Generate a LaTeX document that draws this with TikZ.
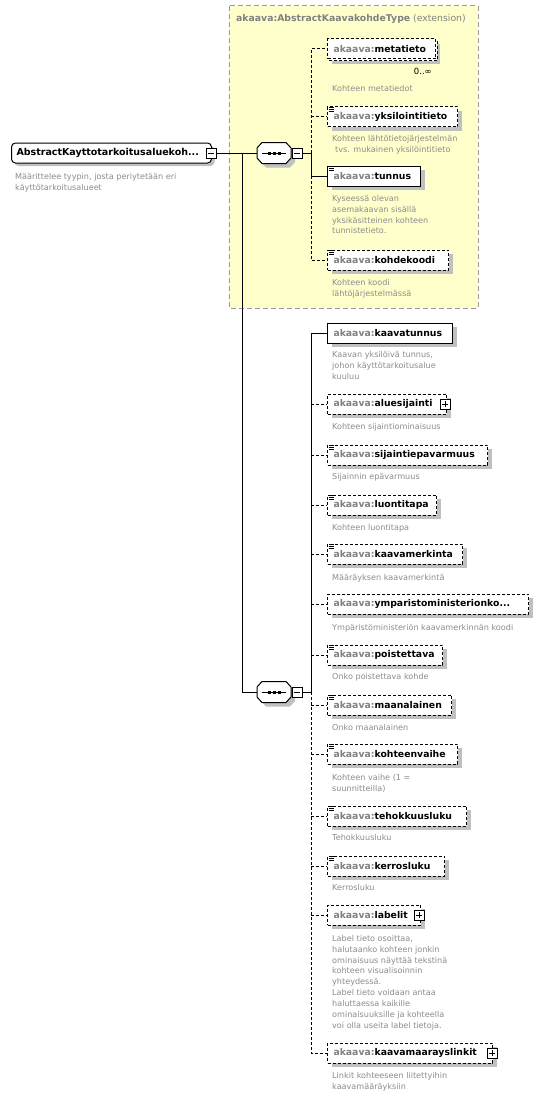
\documentclass[tikz,border=0pt]{standalone}
\usepackage{fontspec}
\setmainfont{DejaVu Sans}
\usetikzlibrary{shadows}
\definecolor{yfill}{HTML}{FFFFCC}
\definecolor{ybord}{HTML}{999999}
\definecolor{pref}{HTML}{808080}
\definecolor{desc}{HTML}{8C8C8C}
\definecolor{shad}{HTML}{C0C0C0}
\newcommand\elem[5]{%
 \pgfmathsetmacro\ew{#3-327}\pgfmathsetmacro\tw{#3-339}%
 \node[box,#4,minimum width=\ew pt] (#1) at (327,#2) {\makebox[\tw pt][l]{\textbf{\textcolor{pref}{akaava:}#5}}};}
\newcommand\dsc[4]{\node[dsc] (#1) at (#2,#3-7.6) {\strut #4};}
\newcommand\simpleicon[1]{\draw[line width=0.8pt] ([xshift=1.5pt,yshift=-0.5pt]#1.north west) -- ++(5.5,0) ([xshift=1.5pt,yshift=-2.5pt]#1.north west) -- ++(5.5,0) ([xshift=1.5pt,yshift=-4.5pt]#1.north west) -- ++(5.5,0);}
\newcommand\seqshape[2]{%
 \fill[shad,shift={(4,4)}] (#1-17,#2-5) -- (#1-12,#2-10.5) -- (#1+12,#2-10.5) -- (#1+17,#2-5) -- (#1+17,#2+5) -- (#1+12,#2+10.5) -- (#1-12,#2+10.5) -- (#1-17,#2+5) -- cycle;
 \draw[line width=1pt,fill=white] (#1-17,#2-5) -- (#1-12,#2-10.5) -- (#1+12,#2-10.5) -- (#1+17,#2-5) -- (#1+17,#2+5) -- (#1+12,#2+10.5) -- (#1-12,#2+10.5) -- (#1-17,#2+5) -- cycle;
 \draw[line width=1pt] (#1-12,#2) -- (#1+12,#2);
 \fill (#1-6.5,#2-1.5) rectangle ++(3,3);
 \fill (#1-1.5,#2-1.5) rectangle ++(3,3);
 \fill (#1+3.5,#2-1.5) rectangle ++(3,3);}
\begin{document}
\begin{tikzpicture}[x=1pt,y=-1pt,
 conn/.style={line width=1pt},
 opt/.style={dash pattern=on 3pt off 2pt},
 shd/.style={drop shadow={shadow xshift=4pt,shadow yshift=-4pt,fill=shad,opacity=1}},
 box/.style={draw,fill=white,line width=1pt,minimum height=20pt,inner xsep=6pt,inner ysep=0pt,anchor=west,font=\fontsize{9.3}{11}\selectfont},
 dsc/.style={anchor=north west,align=left,inner sep=0pt,text=desc,font=\fontsize{8.1}{10.9}\selectfont},
 smallbox/.style={draw,fill=white,line width=1pt,minimum size=10pt,inner sep=0pt},
 minus/.style={smallbox,path picture={\draw[line width=1pt] ([xshift=2pt]path picture bounding box.west) -- ([xshift=-2pt]path picture bounding box.east);}},
 plus/.style={smallbox,path picture={\draw[line width=1pt] ([xshift=2pt]path picture bounding box.west) -- ([xshift=-2pt]path picture bounding box.east) ([yshift=-2pt]path picture bounding box.north) -- ([yshift=2pt]path picture bounding box.south);}},
 seqnode/.style={minimum width=34pt,minimum height=21pt,inner sep=0pt},
]
\useasboundingbox (0,0) rectangle (556,1097);
\fill[white] (0,0) rectangle (556,1097);
\draw[draw=ybord,fill=yfill,line width=1pt,dash pattern=on 5pt off 3pt] (229,6) rectangle (478,308);
\node[anchor=base west,inner sep=0pt,text=pref,font=\fontsize{9.3}{11}\selectfont] (ttl) at (236,22) {\textbf{akaava:AbstractKaavakohdeType} (extension)};

% root
\node[draw,fill=white,line width=1pt,rounded corners=4pt,minimum width=200pt,minimum height=20pt,inner xsep=5pt,inner ysep=0pt,anchor=west,font=\fontsize{9.5}{11}\selectfont\bfseries,drop shadow={shadow xshift=3pt,shadow yshift=-3pt,fill=shad,opacity=1}] (root) at (11,153) {\makebox[190pt][l]{AbstractKayttotarkoitusaluekoh...}};
\node[minus] (rootm) at (211,153) {};
\dsc{rootd}{15}{179}{Määrittelee tyypin, josta periytetään eri\\käyttötarkoitusalueet}

% sequence 1
\node[seqnode] (s1) at (274,153) {};
\seqshape{274}{153}
\node[minus] (s1m) at (297,153) {};
\draw[conn] (rootm.east) -- (s1.west);
\coordinate (j) at (242,153);
\coordinate (b1) at (311,153);
\draw[conn] (s1m.east) -- (b1);

% group 1
\fill[shad] (332,44) rectangle (440,64);
\draw[line width=1pt,opt,fill=white] (329,41) rectangle (437,61);
\elem{meta}{49}{435}{opt}{metatieto}
\node[anchor=base east,inner sep=0pt,font=\fontsize{8.5}{10}\selectfont] (metan) at (432,75) {0..∞};
\dsc{metad}{332}{91}{Kohteen metatiedot}
\elem{yksi}{117}{457}{opt,shd}{yksilointitieto}\simpleicon{yksi}
\dsc{yksid}{332}{141}{Kohteen lähtötietojärjestelmän\\\hspace*{3pt}tvs. mukainen yksilöintitieto}
\elem{tunnus}{176}{420}{shd}{tunnus}\simpleicon{tunnus}
\dsc{tunnusd}{332}{201}{Kyseessä olevan\\asemakaavan sisällä\\yksikäsitteinen kohteen\\tunnistetieto.}
\elem{kohde}{260}{448}{opt,shd}{kohdekoodi}\simpleicon{kohde}
\dsc{kohded}{332}{285}{Kohteen koodi\\lähtöjärjestelmässä}
\draw[conn,opt] (b1) |- (meta.west);
\draw[conn,opt] (b1 |- yksi.west) -- (yksi.west);
\draw[conn] (b1) |- (tunnus.west);
\draw[conn,opt] (b1 |- tunnus.west) |- (kohde.west);

% sequence 2
\node[seqnode] (s2) at (274,692) {};
\seqshape{274}{692}
\node[minus] (s2m) at (297,692) {};
\draw[conn] (j) |- (s2.west);
\coordinate (b2) at (311,692);
\draw[conn] (s2m.east) -- (b2);

% group 2
\elem{kt}{333}{452}{shd}{kaavatunnus}
\dsc{ktd}{332}{357}{Kaavan yksilöivä tunnus,\\johon käyttötarkoitusalue\\kuuluu}
\elem{alue}{404}{446}{opt,shd}{aluesijainti}
\node[plus] (aluep) at (445,404) {};
\dsc{alued}{332}{429}{Kohteen sijaintiominaisuus}
\elem{sijep}{455}{487}{opt,shd}{sijaintiepavarmuus}\simpleicon{sijep}
\dsc{sijepd}{332}{479}{Sijainnin epävarmuus}
\elem{luonti}{505}{436}{opt,shd}{luontitapa}\simpleicon{luonti}
\dsc{luontid}{332}{530}{Kohteen luontitapa}
\elem{kmerk}{554}{462}{opt,shd}{kaavamerkinta}\simpleicon{kmerk}
\dsc{kmerkd}{332}{580}{Määräyksen kaavamerkintä}
\elem{ymp}{604}{528}{opt,shd}{ymparistoministerionko...}
\dsc{ympd}{332}{630}{Ympäristöministeriön kaavamerkinnän koodi}
\elem{poist}{655}{442}{opt,shd}{poistettava}\simpleicon{poist}
\dsc{poistd}{332}{679}{Onko poistettava kohde}
\elem{maan}{705}{451}{opt,shd}{maanalainen}\simpleicon{maan}
\dsc{maand}{332}{730}{Onko maanalainen}
\elem{vaihe}{754}{457}{opt,shd}{kohteenvaihe}\simpleicon{vaihe}
\dsc{vaihed}{332}{780}{Kohteen vaihe (1 =\\suunnitteilla)}
\elem{teho}{816}{466}{opt,shd}{tehokkuusluku}\simpleicon{teho}
\dsc{tehod}{332}{840}{Tehokkuusluku}
\elem{kerros}{866}{444}{opt,shd}{kerrosluku}\simpleicon{kerros}
\dsc{kerrosd}{332}{890}{Kerrosluku}
\elem{labelit}{915}{420}{opt,shd}{labelit}
\node[plus] (labelitp) at (419,915) {};
\dsc{labelitd}{332}{941}{Label tieto osoittaa,\\halutaanko kohteen jonkin\\ominaisuus näyttää tekstinä\\kohteen visualisoinnin\\yhteydessä.\\Label tieto voidaan antaa\\haluttaessa kaikille\\ominaisuuksille ja kohteella\\voi olla useita label tietoja.}
\elem{linkit}{1053}{492}{opt,shd}{kaavamaarayslinkit}
\node[plus] (linkitp) at (492,1053) {};
\dsc{linkitd}{332}{1078}{Linkit kohteeseen liitettyihin\\kaavamääräyksiin}

\draw[conn] (b2) |- (kt.west);
\foreach \n in {alue,sijep,luonti,kmerk,ymp,poist,maan,vaihe,teho,kerros,labelit}
 \draw[conn,opt] (b2 |- \n.west) -- (\n.west);
\draw[conn,opt] (b2) |- (linkit.west);
\end{tikzpicture}
\end{document}
